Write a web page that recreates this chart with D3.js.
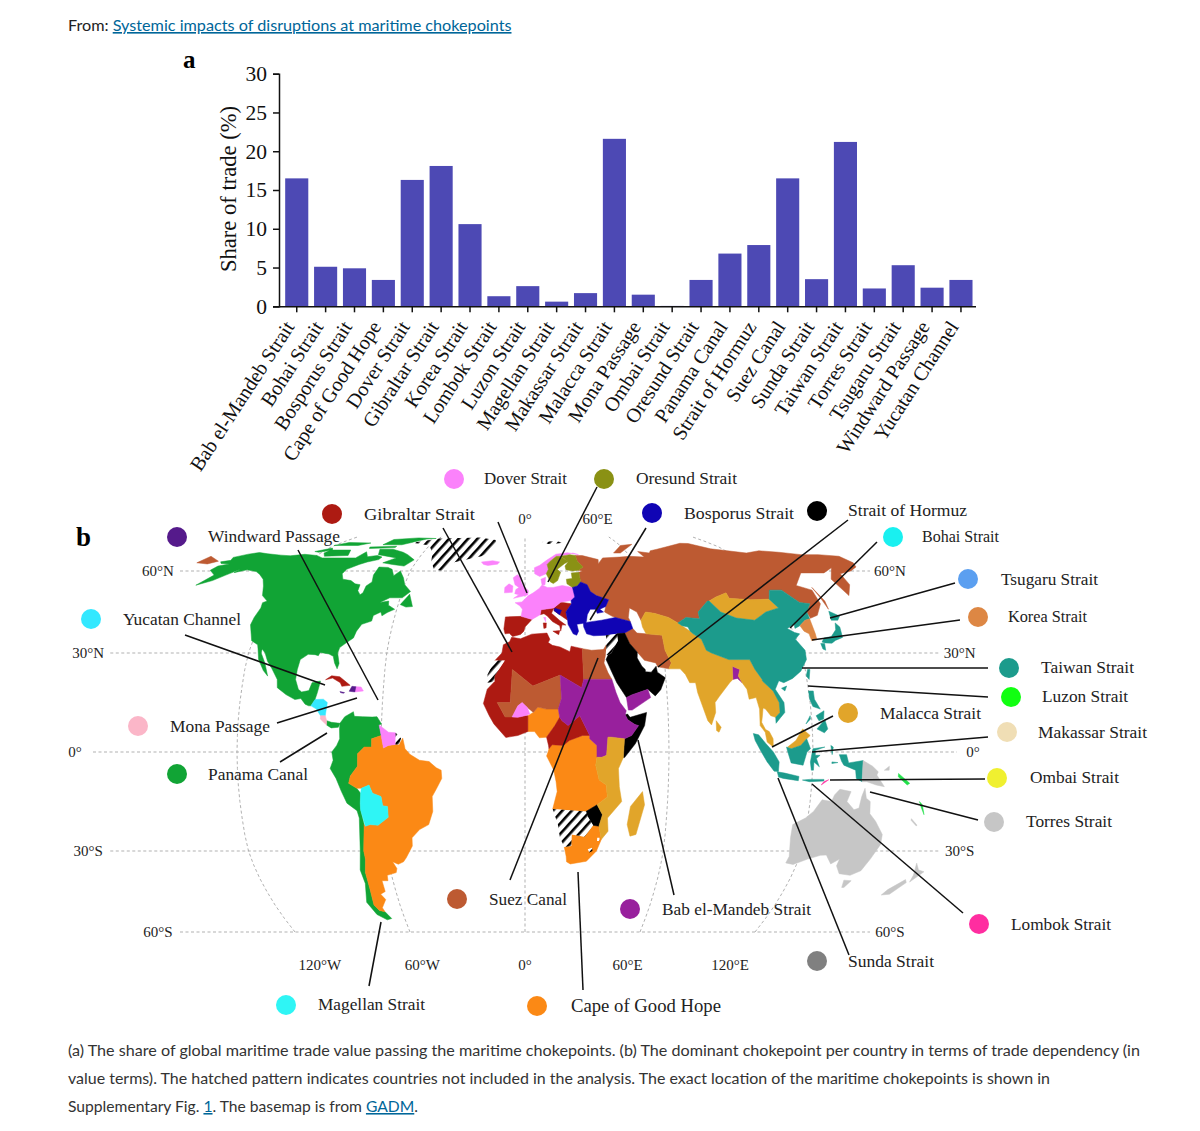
<!DOCTYPE html>
<html><head><meta charset="utf-8">
<script src="https://cdnjs.cloudflare.com/ajax/libs/d3/7.8.5/d3.min.js"></script>
<style>html,body{margin:0;padding:0;background:#fff}svg{display:block}</style></head>
<body><div id="chart"></div>
<script>
// ---------- panel a data ----------
const categories=["Bab el-Mandeb Strait","Bohai Strait","Bosporus Strait","Cape of Good Hope","Dover Strait","Gibraltar Strait","Korea Strait","Lombok Strait","Luzon Strait","Magellan Strait","Makassar Strait","Malacca Strait","Mona Passage","Ombai Strait","Oresund Strait","Panama Canal","Strait of Hormuz","Suez Canal","Sunda Strait","Taiwan Strait","Torres Strait","Tsugaru Strait","Windward Passage","Yucatan Channel"];
const shareOfTrade=[16.5,5.1,4.9,3.4,16.3,18.1,10.6,1.3,2.6,0.6,1.7,21.6,1.5,0.05,3.4,6.8,7.9,16.5,3.5,21.2,2.3,5.3,2.4,3.4];
const yTicks=[0,5,10,15,20,25,30];

// ---------- panel b basemap, [lon,lat] rings per dominant chokepoint ----------
const panama=[
[[-168,65.6],[-164,66.5],[-166,68.3],[-161,70.3],[-156.5,71.3],[-150,70.5],[-141,69.7],[-135,69.3],[-128,70.2],[-120,69.5],[-115,68],[-108,68],[-102,68],[-96,68],[-94,71.8],[-90,68.7],[-85,69.5],[-81.5,68.5],[-82,67],[-87,65.5],[-90,64],[-94,61],[-94.5,59],[-92.5,57],[-88,56.5],[-85,55.3],[-82.3,55],[-82,52.8],[-80,51.3],[-79,52],[-79,54.5],[-77,56],[-78,58.5],[-78,62.4],[-73,62.2],[-70,61],[-67.5,58.3],[-65,60],[-62,57.5],[-60,55],[-56,52.5],[-59,50.2],[-65,50.2],[-69,48.5],[-65,49],[-64.5,47.5],[-61,46],[-64,44.8],[-66,43.6],[-67,45],[-70,43.7],[-70,41.7],[-74,40.5],[-75.5,38],[-76,35.5],[-78.5,33.8],[-81,32],[-81.3,30],[-80,26.8],[-80.5,25.2],[-82,27],[-83,29],[-85,29.7],[-89,30.2],[-89.5,29.2],[-91,29.5],[-94,29.6],[-97,28],[-97.5,25],[-97.7,22],[-96,19],[-94.5,18.2],[-91.5,18.6],[-90.5,21],[-87,21.5],[-87.8,18],[-88.5,15.9],[-90,14],[-91,14],[-92.5,14.5],[-94.5,16.2],[-97,15.9],[-101,17.4],[-105,19.5],[-105.5,22],[-108.5,25.3],[-111,27.5],[-112.8,30],[-114.7,31.5],[-114.5,30],[-112,27],[-109.8,23],[-112,24.7],[-115,28],[-116.5,31.5],[-117.3,33],[-120.6,34.5],[-122,36.8],[-124.3,40.3],[-124.5,43],[-124,46.5],[-124.7,48.4],[-123,49],[-127,51],[-130,54.5],[-133,57],[-137,58.8],[-140,59.8],[-146,60.7],[-151,59.4],[-150,61],[-154,58.5],[-158,56.5],[-164,54.8],[-160,58.5],[-165,60.5],[-165,63],[-161,64.3],[-166,64.6]],
[[-80,73.5],[-72,71.5],[-68,70],[-62,66.8],[-65,63],[-72,64],[-78,65],[-73,68],[-85,70],[-88,73.5]],
[[-117,73],[-105,73],[-102,69.5],[-115,69],[-118,71]],
[[-90,76.5],[-78,76.5],[-68,82],[-62,82.5],[-75,83.1],[-90,81.5]],
[[-125,72],[-118,74.3],[-116,73],[-122,71.5]],
[[-96,75],[-80,75.5],[-80,74.6],[-95,74]],
[[-120,76],[-105,76],[-100,78],[-115,78.5]],
[[-59,47.7],[-56,51.5],[-53,47],[-56,46.8]],
[[-83,9.5],[-81,9],[-77.4,8.7],[-78,7.5],[-81,7.3],[-83,8.2]],
[[-77.4,8.7],[-75.5,10.7],[-72,12.2],[-71.5,10.8],[-68,10.7],[-64,10.6],[-62,10.7],[-60,8.5],[-61,8.2],[-60,5],[-64,4],[-64,1.5],[-67,1.5],[-69.8,-0.5],[-69.9,-4.3],[-73,-7.3],[-73.8,-9.5],[-70.5,-11],[-69,-12.5],[-69.4,-15.5],[-69.5,-17.5],[-71,-17.8],[-75,-15.5],[-77,-12],[-79,-8],[-81.3,-5],[-80,-2.5],[-80.5,0],[-78.5,2],[-77.3,4],[-77.5,7]],
[[-69.5,-17.5],[-68.5,-22],[-70,-30],[-70,-33],[-71.5,-38],[-71.7,-44],[-72.5,-50],[-71,-52],[-68.5,-52.5],[-66.5,-55],[-69,-55.5],[-73,-53.5],[-75.5,-49],[-73,-42],[-73.5,-37],[-71.5,-30],[-70.3,-20],[-71,-17.8]]
];
const capeOfGoodHope=[
[[-60,5],[-59,1.2],[-57,2],[-54,2.3],[-52.5,2.3],[-51,4.2],[-50,1],[-48,-0.7],[-44,-2.5],[-40,-2.9],[-37,-4.8],[-35,-5.5],[-34.8,-8],[-37,-11],[-39,-13.5],[-39,-18],[-41,-22],[-45,-23.5],[-48.5,-26],[-48.7,-28.5],[-52,-32.5],[-53.5,-34],[-56,-34.9],[-58.3,-34],[-57,-36.5],[-57.7,-38],[-62,-39],[-62.3,-41],[-65,-41],[-65,-45],[-67.5,-46],[-66,-48],[-69,-51],[-68.5,-52.5],[-71,-52],[-72.5,-50],[-71.7,-44],[-71.5,-38],[-70,-33],[-70,-30],[-68.5,-22],[-68,-22.5],[-66,-22],[-62.6,-22.2],[-58,-19.8],[-58,-16.5],[-60,-16.3],[-60.5,-13.5],[-64,-12.5],[-65.3,-10],[-68.6,-11],[-70.5,-11],[-73.8,-9.5],[-73,-7.3],[-69.9,-4.3],[-69.8,-0.5],[-67,1.5],[-64,1.5],[-64,4]],
[[1.2,6.2],[1.2,11],[3.5,12],[5.4,13.6],[9,13],[14,13],[14.5,10.5],[12.5,8],[9,4.5],[6,4.3],[4,6.2]],
[[9.6,0],[10,1],[11.3,2.2],[16,2],[18.5,3.5],[24,5],[27,5],[27,4],[30,2],[30,-1.6],[29.5,-4],[31,-8.5],[34,-10],[34.6,-13.6],[30.4,-16],[25.8,-18],[11.7,-17.3],[13.5,-12],[13,-9],[12,-5.5],[9,-1.2]],
[[17,-28.8],[20,-28.5],[20,-25],[25.5,-25.7],[26.5,-24.8],[29,-22.2],[31.5,-22.5],[32.8,-26.5],[31,-30],[27,-33.8],[20,-34.8],[18.3,-34],[18,-32]]
];
const gibraltar=[
[[-84.9,21.9],[-82.5,23.1],[-79,22.8],[-74.2,20.2],[-77.7,19.9],[-78.5,21],[-82,22.4]],
[[-5.9,35.8],[-2,35.2],[3,36.9],[9.8,37.3],[11,35],[10.2,33.8],[12,32.8],[15.3,32.2],[19.5,30.5],[20.2,32.5],[25,31.6],[25,22],[24,19.5],[15,23.3],[3.3,20],[-5.4,25],[-6.2,15],[-11.7,15],[-8.3,10.6],[-5.4,10.6],[-3,10.5],[0,11],[1.2,11],[1.2,6.2],[-3,5],[-8,4.4],[-13,8.5],[-15,11],[-17.5,14.7],[-16,19],[-13,21.3],[-13,23],[-8.7,27.7],[-13,27.7],[-10,30],[-9.5,33],[-6.8,34.1]],
[[9,4.5],[9.8,2],[10,1],[11.3,2.2],[16,2],[18.5,3.5],[24,5],[27,5],[23,11],[18,8],[15.5,9.5],[14.5,10.5],[12.5,8]],
[[-9,43.2],[-1.8,43.4],[3.2,42.3],[0,39.5],[-0.5,38],[-2,36.8],[-5.5,36],[-7,37.2],[-8.9,37],[-9.5,38.8]],
[[7,44],[7.5,45.8],[13.5,46.5],[12.3,44.5],[16,41.8],[18.5,40.2],[16.8,40.3],[16,38],[15.7,40],[12.5,41.5],[10.3,43.5],[8.8,44.4]],
[[12.5,38],[15.6,38.2],[15,36.7]],
[[8.3,41],[9.7,41],[9.5,39.2],[8.5,39]],
[[13.5,46.5],[17,48.6],[22,48],[19,45],[19.5,42],[16,44],[13.5,45.5]]
];
const suez=[
[[-180,69],[-170,66],[-173,64.3],[-180,65]],
[[28,56],[28,59.5],[30,60],[28,60.5],[31,62.5],[29,66],[29,69.5],[33,69.4],[41,67],[40,64.5],[44,68],[54,68.5],[60,69],[68,68.5],[67,72],[73,71],[75,72.5],[80,73.5],[87,75],[100,77.7],[105,77.5],[113,73.8],[130,71],[140,72.5],[150,71.5],[160,70],[170,70],[180,69],[180,65],[177,62.5],[170,60],[163,59],[162,55],[156.7,51],[155.5,57],[163,62],[155,59.3],[143,59.3],[135,54.7],[141,53],[140,48],[135,43.8],[131,42.7],[131,45],[135,48],[130.5,48.5],[126,53],[120,53],[117,49.7],[108,49.5],[98,50],[98,52],[92,50.5],[87.8,49],[87,49],[80.5,45],[80,42.5],[74,43],[69.5,41],[66,43],[60,44.5],[56,45],[53,42],[52,45],[49,46.5],[47.5,43],[48,41.5],[46,42],[41.5,43],[40,43.5],[37,45],[38,47],[40,49.5],[34.5,51],[32,52.5],[31,55]],
[[52,71],[56,71],[68,76.8],[60,76]],
[[142,54],[143,49],[142,46],[142,50]],
[[-5.4,25],[3.3,20],[15,23.3],[15.4,16.3],[14,13],[9,13],[5.4,13.6],[3.5,12],[1,13.5],[-1.2,15],[-3,14],[-5.4,10.6],[-8.3,10.6],[-11.7,15],[-6.2,15]],
[[25,31.6],[29,31],[32.5,31.2],[34.2,31.3],[34.9,29.5],[34,27],[35.5,24],[37,22],[25,22]],
[[34.2,31.3],[35.7,33],[35,29.5]],
[[44.5,37.3],[48.5,39],[50,37.3],[54,37],[61,36.5],[61,31],[63,27],[61.6,25.2],[57,25.8],[56.3,27],[51.5,27.8],[48.8,30.3],[46,33.5],[45,36]]
];
const dover=[
[[-4.7,48.4],[-1.5,48.7],[1.5,50.9],[4,52],[7,53.6],[8.5,54.9],[11,54],[14,54],[18.5,54.7],[23.5,54],[24,50.5],[22,49.2],[17,48.6],[13.5,46.5],[7.5,45.8],[7,44],[3.2,42.3],[-1.8,43.4],[-1.2,46],[-2.5,47.3]],
[[-5.5,50],[1.3,51.2],[1.7,52.8],[-1,54.6],[-2,56],[-2,57.7],[-4,58.6],[-6,57.5],[-5,55],[-3,54],[-4.5,53.2],[-5,51.7],[-3,51.3]],
[[-10,52],[-6.2,52.2],[-6,54.5],[-8,55.3],[-10,54]],
[[-24,65.5],[-18,66.3],[-14,65.5],[-15,64.2],[-20,63.4],[-22.5,64]],
[[5,59],[7.5,58],[11,59],[12.3,61],[12,64],[14,66],[18,69],[25,70],[28,71],[31,70],[25,71.2],[18,70.3],[12,66.5],[8,63.5],[5,62]],
[[8.1,57],[10.5,57.7],[10,55],[8.5,54.9]],
[[8.6,43],[9.5,43],[9.4,41.4]],
[[-61,8.2],[-57,6],[-54,5.8],[-54,2.3],[-57,2],[-59,1.2],[-60,5]],
[[-5.4,10.6],[-3,14],[-1.2,15],[1,13.5],[2,11.5],[0,11],[-3,10.5]],
[[-71.7,19.8],[-72,18.2],[-68.4,18.5],[-69.5,19.7]]
];
const oresund=[
[[11,59],[12.8,56],[14.2,55.4],[16.5,56.5],[18.5,59.5],[17,61],[21.5,64.5],[24,65.8],[20,69],[18,69],[14,66],[12,64],[12.3,61]],
[[24,65.8],[21.5,63],[21.5,60.8],[25,60],[28,60.5],[31,62.5],[29,66],[29,69.5],[26,70],[20.5,69]],
[[21,57],[24,57.3],[24,59.3],[28,59.5],[28,56],[26,54.5],[23.5,54],[21,55.3]]
];
const bosporus=[
[[24,50.5],[23.5,54],[26,54.5],[28,56],[31,55],[32,52.5],[34.5,51],[40,49.5],[38,47],[35,46],[36.5,45],[33.5,44.5],[33,46],[30.5,46],[28.8,44],[28,41.5],[26,40.8],[23.5,40.5],[24,38],[23,36.5],[21.5,37],[19.5,40.5],[19.5,42],[19,45],[22,48],[22,49.2]],
[[26.5,39.5],[26.5,42],[28,41.2],[35,42],[41.5,43],[46,42],[48,41.5],[48.5,39],[44.5,37.3],[41,37],[36,36.5],[30.5,36.3],[27.5,37]],
[[13.6,45.5],[16,44],[17,45.6],[14,46.4]]
];
const hormuz=[
[[36,29.4],[37.5,30],[39,32],[41,34.5],[41,37],[44.5,37.3],[45,36],[46,33.5],[48.8,30.3],[48.5,28.5],[50.2,26],[51.5,25],[51.5,24.3],[54,24.2],[56.3,26],[56.6,24.2],[59.8,22.5],[57.5,18.9],[55,17],[52,19],[48,18],[45,17.3],[42.8,16.5],[39,21],[35,28]],
[[43,11.5],[44,10.5],[51,12],[50,8],[46,2.5],[41.5,-1.7],[41,-1.7],[41.5,4],[44.5,5],[47.5,8],[46,8.3],[43,9.8],[42,11.3]],
[[25.8,-18],[30.4,-16],[32.8,-19],[31.5,-22.5],[29,-22.2],[26.5,-19.5]]
];
const babElMandeb=[
[[15,23.3],[24,19.5],[25,22],[37,22],[38.5,18],[40,15],[42.5,12.5],[42,11.3],[43,9.8],[46,8.3],[47.5,8],[44.5,5],[41.5,4],[36,4.5],[34.6,4.5],[34,-1],[32,-1.6],[30,-1.6],[30,2],[27,4],[27,5],[23,11],[18,8],[15.5,9.5],[14.5,10.5],[14,13],[15.4,16.3]],
[[42.8,16.5],[45,17.3],[48,18],[52,19],[53,16.5],[45,12.7],[43.4,12.7]],
[[88.5,22],[89,26],[92,25],[91,23],[92.3,21],[90.5,22.3]]
];
const malacca=[
[[53,42],[56,45],[60,44.5],[66,43],[69.5,41],[71,40],[74,38],[75,37],[78,35],[79,31],[81,30],[88,28],[92,28],[97,28],[98.5,25],[101,22],[101,21.5],[103,20],[105,18.5],[107,15],[107,12],[105,10.5],[103,11],[101,13],[100,13.3],[99.5,11],[99,9],[100.5,6.8],[102,6.2],[103.5,4],[103.5,1.5],[101,3],[100.3,6],[98.3,8],[98.5,13],[97.5,16.5],[94.5,16],[94,19],[92.3,21],[91,23],[92,25],[89,26],[88.5,22],[87,21],[82,16.8],[80,15],[80,12],[78,8.2],[76.5,9.5],[73,18],[72.5,21],[70,21],[68.5,23.5],[66.5,25.2],[61.6,25.2],[63,27],[61,31],[61,36.5],[54,37],[53,39.5]],
[[87.8,49],[92,50.5],[98,52],[98,50],[108,49.5],[117,49.7],[119,46.5],[112,45],[105,42],[97,42.8],[91,45]],
[[80,9.5],[82,7.5],[81,6],[80,6.5]],
[[34.6,4.5],[36,4.5],[41.5,4],[41,-1.7],[39,-5],[39.5,-10.5],[40.7,-15],[35,-20],[35.5,-24],[32.8,-26.5],[31.5,-22.5],[32.8,-19],[30.4,-16],[34.6,-13.6],[34,-10],[31,-8.5],[29.5,-4],[30,-1.6],[32,-1.6],[34,-1]],
[[49.3,-12],[50.4,-16],[47.5,-25],[45,-25.5],[43.5,-22],[44.5,-16.5]],
[[109.5,1.5],[113,3.5],[116,7],[119,5],[117.5,4],[115,2],[111,1]]
];
const taiwan=[
[[73.5,39.5],[71,40],[69.5,41],[74,43],[80,42.5],[80.5,45],[87,49],[87.8,49],[91,45],[97,42.8],[105,42],[112,45],[119,46.5],[117,49.7],[120,53],[126,53],[130.5,48.5],[135,48],[131,45],[130.5,42.5],[128,42],[124.3,40],[121.5,39],[122,40.5],[118,39],[120.5,37.5],[122.5,37],[119.5,35],[122,31],[121.5,28],[118,24.5],[114,22.3],[110,21],[108,21.6],[106,19],[109,15],[109,12],[107,10.4],[105,8.7],[105,10.5],[107,12],[107,15],[105,18.5],[103,20],[101,21.5],[101,22],[98.5,25],[97,28],[92,28],[88,28],[81,30],[79,31],[78,35],[75,37],[74,38]],
[[108.7,19.3],[111,20],[110,18.5]],
[[121,25],[122,25],[121,22],[120,23]],
[[130.8,34],[132.5,35.5],[136,36],[139.5,38.5],[141,41],[142,39.5],[140.8,35.7],[137,34.6],[135,33.6],[132,33.7]],
[[130,33.5],[131.7,33.5],[131,31],[130,31.5]],
[[140,42],[141.5,45.3],[145,43.5],[143,42]],
[[120,18.5],[122,18.5],[122,16],[124,13],[121,13.8],[120,16]],
[[122,7],[125.5,9.8],[126.5,7],[125,5.8]],
[[122,11],[125.5,12.5],[125,10],[123,9.5]],
[[117.5,8.5],[119.5,11],[119.5,10]],
[[95.3,5.6],[97.5,5.2],[100.5,2.5],[103.5,0],[106,-3],[105.8,-5.9],[104,-5.8],[101,-3],[98.5,0],[96,3.5]],
[[105.3,-6],[108.5,-6.4],[114.5,-7.4],[114.3,-8.7],[108,-8],[106,-7.6]],
[[109,1.5],[111,1],[115,2],[117.5,4],[119,1],[117.5,0],[116,-4],[111,-3.3],[109.5,0]],
[[119.5,-5.5],[119,-3],[120,1],[125,1.5],[121,0.5],[121,-1],[123,-1],[121.5,-2],[122.8,-4.5],[120.5,-3],[120.4,-5.5]],
[[131,-0.8],[134,-0.8],[135,-3.3],[141,-2.6],[141,-9],[138.5,-8],[138,-5.5],[133,-4],[132,-2.8]],
[[116,-8.5],[119,-8.3],[125,-8.3],[125,-8.8],[119,-9]],
[[128,-3],[130.5,-3.2],[128,-3.5]],
[[127.5,2],[128.5,1.5],[128,-0.8]]
];
const torres=[
[[141,-2.6],[145,-4.3],[147.5,-6],[147,-7],[150.5,-10.5],[147,-10],[143,-9],[141,-9]],
[[114,-22],[114,-26],[115.5,-32],[115,-34.4],[118.5,-35],[124,-33],[129,-31.6],[131.5,-31.5],[135,-34.8],[138,-33],[138,-35.5],[141,-38.4],[146.3,-39],[150,-37.3],[151.5,-33],[153.5,-28],[153,-25],[149,-21],[146,-18.7],[145.3,-15],[143.5,-14],[142.5,-11],[141.5,-13.5],[141,-17],[139,-17.5],[135.5,-15],[136.8,-12],[132,-11.3],[130,-13],[129,-15],[125,-14.5],[122,-18],[119,-20]],
[[144.8,-40.8],[148.3,-41],[147,-43.5],[146,-43.5]],
[[172.8,-34.5],[175.5,-37],[178.5,-37.7],[175.3,-41.5],[174.8,-39]],
[[172.6,-40.6],[174,-41.7],[170.5,-46],[167,-46.3],[168,-44.3]],
[[164,-20.2],[167,-22.2],[166.7,-22.4],[164,-20.7]],
[[150,-5.5],[152,-4.3],[152,-5.5]]
];
const korea=[[[124.3,40],[128,42],[130.5,42.5],[129.5,37],[129,35],[126.5,34.5],[126.7,37],[125,38]]];
const yucatan=[[[-90,14],[-88.5,15.9],[-85,16],[-83.2,15],[-83.7,11],[-85.7,11],[-87.6,13]]];
const mona=[[[-85.7,11],[-83.7,11],[-83,9.5],[-83,8.2],[-85.7,10]]];
const magellan=[[[-69,-12.5],[-68.6,-11],[-65.3,-10],[-64,-12.5],[-60.5,-13.5],[-60,-16.3],[-58,-16.5],[-58,-19.8],[-62.6,-22.2],[-66,-22],[-68,-22.5],[-69.5,-17.5],[-69.4,-15.5]]];
const windward=[[[-74.4,18.4],[-72,18.2],[-71.7,19.8],[-73.4,19.9]],[[-78.3,18.3],[-76.3,18],[-76.8,17.8],[-78,18]]];
const lombok=[[[124,-10],[127,-8.4],[125,-9]]];
const luzon=[[[156,-6.5],[161,-9.5],[160,-10],[156,-7.5]],[[166,-15],[167.5,-16],[169,-19],[167,-16.5]]];
const notIncluded=[
[[-73,78.2],[-60,76],[-54,70.5],[-52,66],[-48,61],[-43,60],[-40,65],[-25,69],[-20,72],[-18,77],[-20,81],[-32,83.5],[-60,82.5]],
[[-13,27.7],[-8.7,27.7],[-13,23],[-13,21.3],[-16,21],[-16,23.5]],
[[-54,5.8],[-51.7,4.2],[-52.5,2.3],[-54,2.3]],
[[11.7,-17.3],[25.8,-18],[26.5,-19.5],[29,-22.2],[26.5,-24.8],[25.5,-25.7],[20,-25],[20,-28.5],[17,-28.8],[15,-26],[14,-22]],
[[35.7,33],[36,36.5],[41,37],[41,34.5],[39,32],[37.5,30],[36,29.4],[35,29.5]],
[[27.2,-29.5],[29,-29],[29.3,-30],[28,-30.6]],
[[31,-26],[32,-26],[32,-27],[31,-27]],
[[11,79],[21,80],[25,78],[15,77]]
];

const regions=[
 [panama,"#11a435"],[capeOfGoodHope,"#fb8915"],[gibraltar,"#ad1a12"],[suez,"#bd5a32"],[dover,"#fb82fb"],
 [oresund,"#8a9114"],[bosporus,"#1004b4"],[hormuz,"#000000"],[babElMandeb,"#98209d"],[malacca,"#e1a52a"],
 [taiwan,"#1c9b8c"],[torres,"#c6c6c6"],[korea,"#dd8744"],[yucatan,"#33e8ff"],[mona,"#fbb6c8"],
 [magellan,"#2ff5f5"],[windward,"#551a8b"],[lombok,"#ff2da0"],[luzon,"#22e04a"]
];

// ---------- graticule labels ----------
const latLines=[60,30,0,-30,-60];
const lonLines=[-120,-60,0,60,120];
const latLabels=["60°N","30°N","0°","30°S","60°S"];
const lonLabels=["120°W","60°W","0°","60°E","120°E"];

// ---------- call-outs: [label, colour, circle x, y, text x, text y, text width, leader x1,y1,x2,y2] ----------
const callouts=[
["Dover Strait","#fb82fb",454,479,484,481,83,498,522,527,593],
["Oresund Strait","#8a9114",604,479,636,481,101,597,487,548,582],
["Gibraltar Strait","#ad1a12",332,514,364,517,111,443,528,512,652],
["Bosporus Strait","#1004b4",652,513,684,516,110,646,528,590,620],
["Strait of Hormuz","#000000",817,511,848,513,119,848,520,658,667],
["Bohai Strait","#19f0f0",893,537,922,539,77,877,542,790,628],
["Tsugaru Strait","#5b9ff0",968,579,1001,582,97,955,583,830,618],
["Korea Strait","#dd8744",978,617,1008,619,79,960,620,812,640],
["Taiwan Strait","#1c9b8c",1009,668,1041,670,93,988,668,802,668],
["Luzon Strait","#11ff11",1011,697,1042,699,86,988,697,808,686],
["Malacca Strait","#e1a52a",848,713,880,716,101,833,716,772,747],
["Makassar Strait","#f0deb5",1007,732,1038,735,109,988,737,812,752],
["Ombai Strait","#f0f030",997,778,1030,780,89,985,779,830,780],
["Torres Strait","#c6c6c6",994,822,1026,824,86,978,820,870,792],
["Lombok Strait","#ff2da0",979,924,1011,927,100,963,913,812,784],
["Sunda Strait","#808080",817,961,848,964,86,849,955,778,778],
["Bab el-Mandeb Strait","#98209d",630,909,662,912,149,674,895,638,740],
["Cape of Good Hope","#fb8915",537,1006,571,1009,150,583,990,578,872],
["Suez Canal","#bd5a32",457,899,489,902,78,510,880,598,658],
["Magellan Strait","#2ff5f5",286,1005,318,1007,107,369,986,381,922],
["Panama Canal","#11a435",177,774,208,777,100,280,762,327,733],
["Mona Passage","#fbb6c8",138,726,170,729,100,277,723,357,698],
["Yucatan Channel","#33e8ff",91,619,123,622,118,185,635,325,685],
["Windward Passage","#551a8b",177,537,208,539,132,298,550,378,700]
];

const W=1200,H=1131,serif="'Liberation Serif','Times New Roman',serif",sans="Lato,'Noto Sans',sans-serif";
const svg=d3.select("#chart").append("svg").attr("width",W).attr("height",H).attr("viewBox",[0,0,W,H]);

// ---------- heading ----------
const head=svg.append("text").attr("x",68).attr("y",31).attr("font-family",sans).attr("font-size",16.2).attr("fill","#222");
head.append("tspan").text("From: ");
head.append("tspan").attr("fill","#006699").attr("text-decoration","underline").text("Systemic impacts of disruptions at maritime chokepoints");

// ---------- panel a ----------
const x=d3.scaleBand().domain(categories).range([282.3,975.4]).paddingInner(0.2).paddingOuter(0.1);
const y=d3.scaleLinear().domain([0,30]).range([306.3,73.7]);
svg.append("text").attr("x",183).attr("y",68).attr("font-family",serif).attr("font-weight","bold").attr("font-size",25).attr("fill","#000").text("a");
svg.append("g").selectAll("rect").data(categories).join("rect")
 .attr("x",d=>x(d)).attr("width",x.bandwidth())
 .attr("y",(d,i)=>y(shareOfTrade[i])).attr("height",(d,i)=>y(0)-y(shareOfTrade[i])).attr("fill","#4d49b4");
const gy=svg.append("g").attr("transform","translate(279,0)").call(d3.axisLeft(y).tickValues(yTicks).tickSize(6).tickPadding(6));
gy.selectAll("text").attr("font-family",serif).attr("font-size",21.5).attr("fill","#111");
const gx=svg.append("g").attr("transform","translate(0,306.3)").call(d3.axisBottom(x).tickSize(6).tickPadding(4).tickSizeOuter(0));
gx.select(".domain").attr("d","M273,0.5H976");
gx.selectAll("text").attr("font-family",serif).attr("font-size",20.2).attr("fill","#111")
 .attr("text-anchor","end").attr("dy",0).attr("transform","translate(-10,15) rotate(-57)");
svg.selectAll(".domain,.tick line").attr("stroke","#111").attr("stroke-width",1.5);
svg.append("text").attr("transform","translate(236,189) rotate(-90)").attr("text-anchor","middle")
 .attr("font-family",serif).attr("font-size",22.6).attr("fill","#111").text("Share of trade (%)");

// ---------- panel b ----------
const mapX0=525,mapK=2.4;
const latY=d3.scaleLinear().domain([-90,-60,-30,0,30,60,71,77,84]).range([990,932,851,752,653,571,553,544,537]);
const plen=d3.scaleLinear().domain([0,5,10,15,20,25,30,35,40,45,50,55,60,65,70,75,80,85,90])
 .range([1,.9986,.9954,.99,.9822,.973,.96,.9427,.9216,.8962,.8679,.835,.7986,.7597,.7186,.6732,.6213,.5722,.5322]);
const project=(lon,lat)=>[mapX0+lon*mapK*plen(Math.abs(lat)),latY(lat)];
const geoPath=d3.geoPath(d3.geoTransform({point(lon,lat){const p=project(lon,lat);this.stream.point(p[0],p[1]);}}));
const toGeo=rings=>({type:"MultiPolygon",coordinates:rings.map(r=>[r.concat([r[0]])])});

const defs=svg.append("defs");
defs.append("pattern").attr("id","hatch").attr("patternUnits","userSpaceOnUse").attr("width",7).attr("height",7)
 .attr("patternTransform","rotate(42)")
 .call(p=>{p.append("rect").attr("width",7).attr("height",7).attr("fill","#fff");
           p.append("rect").attr("width",2.6).attr("height",7).attr("fill","#000");});

const gGrid=svg.append("g").attr("fill","none").attr("stroke","#a8a8a8").attr("stroke-width",0.9).attr("stroke-dasharray","3 2.5");
const meridian=lon=>({type:"LineString",coordinates:d3.range(-60,85,5).concat(84).map(la=>[lon,la])});
const parallel=la=>({type:"LineString",coordinates:[-180,180].map(lo=>[lo,la])});
lonLines.forEach(l=>gGrid.append("path").attr("d",geoPath(meridian(l))));
latLines.forEach(l=>gGrid.append("path").attr("d",geoPath(parallel(l))));

const gMap=svg.append("g");
regions.forEach(([rings,color])=>gMap.append("path").attr("d",geoPath(toGeo(rings))).attr("fill",color).attr("stroke",color).attr("stroke-width",0.5).attr("stroke-linejoin","round"));
gMap.append("path").attr("d",geoPath(toGeo(notIncluded))).attr("fill","url(#hatch)");

const gText=svg.append("g").attr("font-family",serif).attr("font-size",15).attr("fill","#222").attr("text-anchor","middle");
latLines.forEach((la,i)=>{
 const ends=[-180,180].map(lo=>project(lo,la)[0]);
 const pad=la===0?18:22;
 gText.append("text").attr("x",ends[0]-pad).attr("y",latY(la)+5).text(latLabels[i]);
 gText.append("text").attr("x",ends[1]+pad-2).attr("y",latY(la)+5).text(latLabels[i]);
});
lonLines.forEach((lo,i)=>gText.append("text").attr("x",mapX0+lo*1.71).attr("y",970).text(lonLabels[i]));
[0,60].forEach((lo,i)=>gText.append("text").attr("x",mapX0+lo*1.21).attr("y",524).text(["0°","60°E"][i]));

const gCall=svg.append("g");
gCall.selectAll("line").data(callouts).join("line")
 .attr("x1",d=>d[7]).attr("y1",d=>d[8]).attr("x2",d=>d[9]).attr("y2",d=>d[10]).attr("stroke","#111").attr("stroke-width",1.5);
gCall.selectAll("circle").data(callouts).join("circle")
 .attr("cx",d=>d[2]).attr("cy",d=>d[3]).attr("r",10).attr("fill",d=>d[1]);
gCall.selectAll("text").data(callouts).join("text")
 .attr("x",d=>d[4]).attr("y",d=>d[5]+3).attr("font-family",serif)
 .attr("font-size",d=>d[0]==="Cape of Good Hope"?18:16.5).attr("fill","#222")
 .attr("textLength",d=>d[6]).attr("lengthAdjust","spacingAndGlyphs").text(d=>d[0]);
svg.append("text").attr("x",76).attr("y",546).attr("font-family",serif).attr("font-weight","bold").attr("font-size",27).attr("fill","#000").text("b");

// ---------- caption ----------
const cap=svg.append("g").attr("font-family",sans).attr("font-size",16).attr("fill","#333");
cap.append("text").attr("x",68).attr("y",1056).attr("textLength",1072).attr("lengthAdjust","spacingAndGlyphs")
 .text("(a) The share of global maritime trade value passing the maritime chokepoints. (b) The dominant chokepoint per country in terms of trade dependency (in");
cap.append("text").attr("x",68).attr("y",1084).attr("textLength",982).attr("lengthAdjust","spacingAndGlyphs")
 .text("value terms). The hatched pattern indicates countries not included in the analysis. The exact location of the maritime chokepoints is shown in");
const c3=cap.append("text").attr("x",68).attr("y",1112).attr("font-size",15.65);
c3.append("tspan").text("Supplementary Fig. ");
c3.append("tspan").attr("fill","#006699").attr("text-decoration","underline").text("1");
c3.append("tspan").text(". The basemap is from ");
c3.append("tspan").attr("fill","#006699").attr("text-decoration","underline").text("GADM");
c3.append("tspan").text(".");
</script></body></html>
